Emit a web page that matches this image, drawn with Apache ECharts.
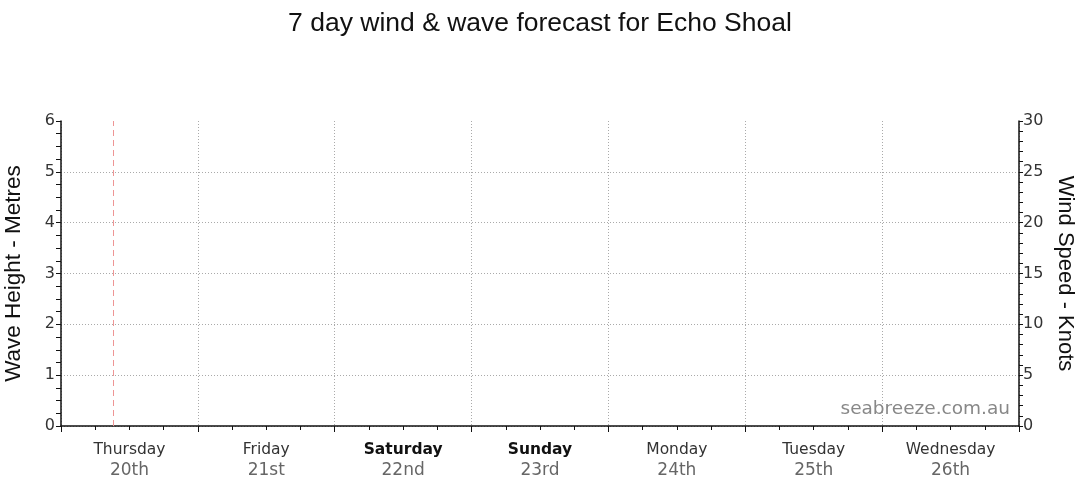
<!DOCTYPE html>
<html>
<head>
<meta charset="utf-8">
<script src="https://cdn.jsdelivr.net/npm/echarts@6/dist/echarts.min.js"></script>
<style>
  html, body { margin: 0; padding: 0; background: #fff; }
  #main { width: 1080px; height: 490px; }
</style>
</head>
<body>
<div id="main"></div>
<script>
var chartDom = document.getElementById('main');
var myChart = echarts.init(chartDom);
var option;

// forecast days shown along the bottom
var dayNames = ['Thursday', 'Friday', 'Saturday', 'Sunday', 'Monday', 'Tuesday', 'Wednesday'];
var dayDates = ['20th', '21st', '22nd', '23rd', '24th', '25th', '26th'];
var weekendDays = ['Saturday', 'Sunday'];

// forecast values: [hour from start, value] - nothing published for this spot
var waveHeight = [];
var windSpeed = [];

// current time marker, hours since Thursday 00:00
var nowHour = 9.2;

var tickFont = 'DejaVu Sans, Verdana, sans-serif';
var nameFont = 'Liberation Sans, Arial, sans-serif';
var gridLine = { show: true, lineStyle: { color: '#aaa', type: [1, 2], width: 1 } };

option = {
  animation: false,
  title: {
    text: '7 day wind & wave forecast for Echo Shoal',
    left: 'center',
    top: 5,
    textStyle: {
      fontFamily: nameFont,
      fontSize: 26.5,
      fontWeight: 'normal',
      color: '#111'
    }
  },
  grid: { left: 61, right: 61, top: 121, bottom: 64, outerBoundsMode: 'none' },
  graphic: [
    {
      type: 'text',
      right: 70,
      top: 400,
      style: {
        text: 'seabreeze.com.au',
        font: '18.5px ' + tickFont,
        fill: '#888'
      },
      z: 10
    }
  ],
  xAxis: [
    {
      type: 'value',
      min: 0,
      max: 168,
      interval: 24,
      axisLine: { show: true, lineStyle: { color: '#111', width: 1.5 } },
      axisTick: { show: true, length: 6, lineStyle: { color: '#111' } },
      minorTick: { show: true, splitNumber: 4, length: 4, lineStyle: { color: '#111' } },
      axisLabel: { show: false },
      splitLine: gridLine
    },
    {
      type: 'category',
      position: 'bottom',
      data: dayNames,
      boundaryGap: true,
      axisLine: { show: false },
      axisTick: { show: false },
      splitLine: { show: false },
      axisLabel: {
        margin: 13,
        interval: 0,
        formatter: function (value, idx) {
          var key = weekendDays.indexOf(value) >= 0 ? 'we' : 'wd';
          return '{' + key + '|' + value + '}\n{dt|' + dayDates[idx] + '}';
        },
        rich: {
          wd: { fontFamily: tickFont, fontSize: 15.5, color: '#333', lineHeight: 21 },
          we: { fontFamily: tickFont, fontSize: 15.5, color: '#111', fontWeight: 'bold', lineHeight: 21 },
          dt: { fontFamily: tickFont, fontSize: 17, color: '#666', lineHeight: 22 }
        }
      }
    }
  ],
  yAxis: [
    {
      type: 'value',
      min: 0,
      max: 6,
      interval: 1,
      position: 'left',
      name: 'Wave Height - Metres',
      nameLocation: 'middle',
      nameGap: 36,
      nameTextStyle: { fontFamily: nameFont, fontSize: 22.5, color: '#111' },
      axisLine: { show: true, lineStyle: { color: '#111', width: 1.5 } },
      axisTick: { show: true, length: 5, lineStyle: { color: '#111' } },
      minorTick: { show: true, splitNumber: 4, length: 5, lineStyle: { color: '#111' } },
      axisLabel: { margin: 6, fontFamily: tickFont, fontSize: 16, color: '#333' },
      splitLine: { show: true, showMaxLine: false, lineStyle: gridLine.lineStyle }
    },
    {
      type: 'value',
      min: 0,
      max: 30,
      interval: 5,
      position: 'right',
      name: 'Wind Speed - Knots',
      nameLocation: 'middle',
      nameRotate: -90,
      nameGap: 33,
      nameTextStyle: { fontFamily: nameFont, fontSize: 22, color: '#111' },
      axisLine: { show: true, lineStyle: { color: '#111', width: 1.5 } },
      axisTick: { show: true, length: 4, lineStyle: { color: '#111' } },
      minorTick: { show: true, splitNumber: 5, length: 4, lineStyle: { color: '#111' } },
      axisLabel: { margin: 4, fontFamily: tickFont, fontSize: 16, color: '#333' },
      splitLine: { show: false }
    }
  ],
  series: [
    {
      name: 'Wave Height',
      type: 'line',
      xAxisIndex: 0,
      yAxisIndex: 0,
      showSymbol: false,
      data: waveHeight,
      markLine: {
        silent: true,
        symbol: 'none',
        label: { show: false },
        emphasis: { disabled: true },
        lineStyle: { color: '#ee9595', type: [6, 4], width: 1, opacity: 1 },
        data: [{ xAxis: nowHour }]
      }
    },
    {
      name: 'Wind Speed',
      type: 'line',
      xAxisIndex: 0,
      yAxisIndex: 1,
      showSymbol: false,
      data: windSpeed
    }
  ]
};

option && myChart.setOption(option);
</script>
</body>
</html>
